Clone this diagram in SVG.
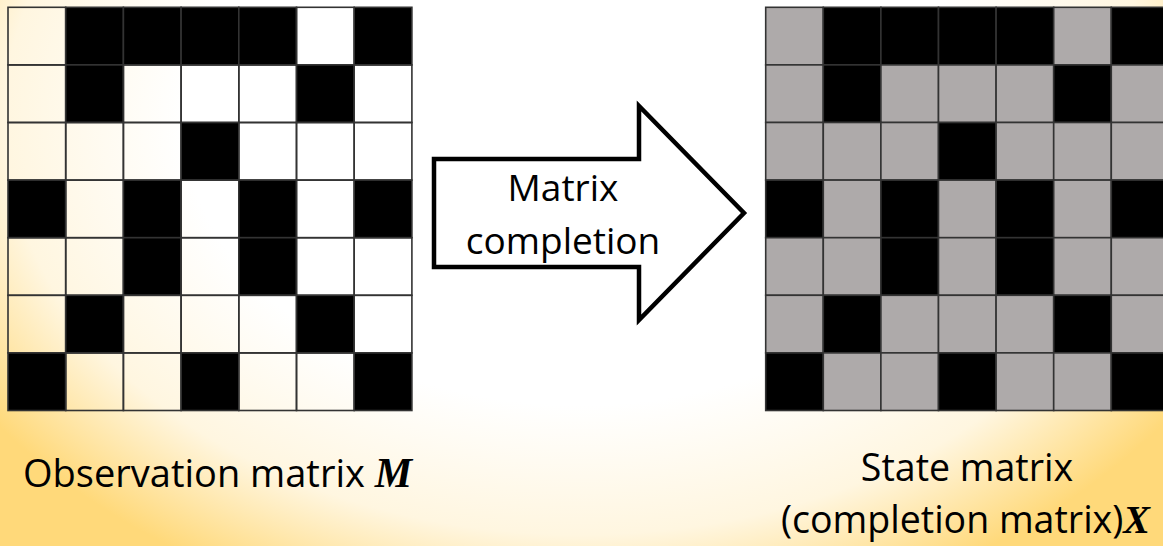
<svg xmlns="http://www.w3.org/2000/svg" width="1163" height="546" viewBox="0 0 1163 546">
  <defs>
    <radialGradient id="bg" gradientUnits="userSpaceOnUse" cx="580" cy="120" r="720" gradientTransform="translate(580 120) scale(1 0.72) translate(-580 -120)">
      <stop offset="0" stop-color="#ffffff"/>
      <stop offset="0.55" stop-color="#ffffff"/>
      <stop offset="0.8" stop-color="#fff6e0"/>
      <stop offset="1" stop-color="#ffd97a"/>
    </radialGradient>
  </defs>
  <style>
    .c { stroke: #333; stroke-width: 1.6; }
    .w { fill: none; }
    .b { fill: #000; }
    .g { fill: #aeaaaa; }
    .t { font-family: "Open Sans", "Noto Sans", sans-serif; fill: #000; }
    .m { font-family: "Liberation Serif", "DejaVu Serif", serif; font-weight: bold; font-style: italic; fill: #000; }
  </style>
  <rect x="0" y="0" width="1163" height="546" fill="url(#bg)"/>

  <g id="observation-matrix">
    <!-- row 0 -->
    <rect class="c w" x="8" y="7.3" width="57.7" height="57.6"/>
    <rect class="c b" x="65.7" y="7.3" width="57.7" height="57.6"/>
    <rect class="c b" x="123.4" y="7.3" width="57.7" height="57.6"/>
    <rect class="c b" x="181.1" y="7.3" width="57.7" height="57.6"/>
    <rect class="c b" x="238.8" y="7.3" width="57.7" height="57.6"/>
    <rect class="c w" x="296.5" y="7.3" width="57.7" height="57.6"/>
    <rect class="c b" x="354.2" y="7.3" width="57.7" height="57.6"/>
    <!-- row 1 -->
    <rect class="c w" x="8" y="64.9" width="57.7" height="57.6"/>
    <rect class="c b" x="65.7" y="64.9" width="57.7" height="57.6"/>
    <rect class="c w" x="123.4" y="64.9" width="57.7" height="57.6"/>
    <rect class="c w" x="181.1" y="64.9" width="57.7" height="57.6"/>
    <rect class="c w" x="238.8" y="64.9" width="57.7" height="57.6"/>
    <rect class="c b" x="296.5" y="64.9" width="57.7" height="57.6"/>
    <rect class="c w" x="354.2" y="64.9" width="57.7" height="57.6"/>
    <!-- row 2 -->
    <rect class="c w" x="8" y="122.5" width="57.7" height="57.6"/>
    <rect class="c w" x="65.7" y="122.5" width="57.7" height="57.6"/>
    <rect class="c w" x="123.4" y="122.5" width="57.7" height="57.6"/>
    <rect class="c b" x="181.1" y="122.5" width="57.7" height="57.6"/>
    <rect class="c w" x="238.8" y="122.5" width="57.7" height="57.6"/>
    <rect class="c w" x="296.5" y="122.5" width="57.7" height="57.6"/>
    <rect class="c w" x="354.2" y="122.5" width="57.7" height="57.6"/>
    <!-- row 3 -->
    <rect class="c b" x="8" y="180.1" width="57.7" height="57.6"/>
    <rect class="c w" x="65.7" y="180.1" width="57.7" height="57.6"/>
    <rect class="c b" x="123.4" y="180.1" width="57.7" height="57.6"/>
    <rect class="c w" x="181.1" y="180.1" width="57.7" height="57.6"/>
    <rect class="c b" x="238.8" y="180.1" width="57.7" height="57.6"/>
    <rect class="c w" x="296.5" y="180.1" width="57.7" height="57.6"/>
    <rect class="c b" x="354.2" y="180.1" width="57.7" height="57.6"/>
    <!-- row 4 -->
    <rect class="c w" x="8" y="237.7" width="57.7" height="57.6"/>
    <rect class="c w" x="65.7" y="237.7" width="57.7" height="57.6"/>
    <rect class="c b" x="123.4" y="237.7" width="57.7" height="57.6"/>
    <rect class="c w" x="181.1" y="237.7" width="57.7" height="57.6"/>
    <rect class="c b" x="238.8" y="237.7" width="57.7" height="57.6"/>
    <rect class="c w" x="296.5" y="237.7" width="57.7" height="57.6"/>
    <rect class="c w" x="354.2" y="237.7" width="57.7" height="57.6"/>
    <!-- row 5 -->
    <rect class="c w" x="8" y="295.3" width="57.7" height="57.6"/>
    <rect class="c b" x="65.7" y="295.3" width="57.7" height="57.6"/>
    <rect class="c w" x="123.4" y="295.3" width="57.7" height="57.6"/>
    <rect class="c w" x="181.1" y="295.3" width="57.7" height="57.6"/>
    <rect class="c w" x="238.8" y="295.3" width="57.7" height="57.6"/>
    <rect class="c b" x="296.5" y="295.3" width="57.7" height="57.6"/>
    <rect class="c w" x="354.2" y="295.3" width="57.7" height="57.6"/>
    <!-- row 6 -->
    <rect class="c b" x="8" y="352.9" width="57.7" height="57.6"/>
    <rect class="c w" x="65.7" y="352.9" width="57.7" height="57.6"/>
    <rect class="c w" x="123.4" y="352.9" width="57.7" height="57.6"/>
    <rect class="c b" x="181.1" y="352.9" width="57.7" height="57.6"/>
    <rect class="c w" x="238.8" y="352.9" width="57.7" height="57.6"/>
    <rect class="c w" x="296.5" y="352.9" width="57.7" height="57.6"/>
    <rect class="c b" x="354.2" y="352.9" width="57.7" height="57.6"/>
  </g>

  <g id="state-matrix">
    <!-- row 0 -->
    <rect class="c g" x="765.7" y="7.3" width="57.6" height="57.6"/>
    <rect class="c b" x="823.3" y="7.3" width="57.6" height="57.6"/>
    <rect class="c b" x="880.9" y="7.3" width="57.6" height="57.6"/>
    <rect class="c b" x="938.5" y="7.3" width="57.6" height="57.6"/>
    <rect class="c b" x="996.1" y="7.3" width="57.6" height="57.6"/>
    <rect class="c g" x="1053.7" y="7.3" width="57.6" height="57.6"/>
    <rect class="c b" x="1111.3" y="7.3" width="57.6" height="57.6"/>
    <!-- row 1 -->
    <rect class="c g" x="765.7" y="64.9" width="57.6" height="57.6"/>
    <rect class="c b" x="823.3" y="64.9" width="57.6" height="57.6"/>
    <rect class="c g" x="880.9" y="64.9" width="57.6" height="57.6"/>
    <rect class="c g" x="938.5" y="64.9" width="57.6" height="57.6"/>
    <rect class="c g" x="996.1" y="64.9" width="57.6" height="57.6"/>
    <rect class="c b" x="1053.7" y="64.9" width="57.6" height="57.6"/>
    <rect class="c g" x="1111.3" y="64.9" width="57.6" height="57.6"/>
    <!-- row 2 -->
    <rect class="c g" x="765.7" y="122.5" width="57.6" height="57.6"/>
    <rect class="c g" x="823.3" y="122.5" width="57.6" height="57.6"/>
    <rect class="c g" x="880.9" y="122.5" width="57.6" height="57.6"/>
    <rect class="c b" x="938.5" y="122.5" width="57.6" height="57.6"/>
    <rect class="c g" x="996.1" y="122.5" width="57.6" height="57.6"/>
    <rect class="c g" x="1053.7" y="122.5" width="57.6" height="57.6"/>
    <rect class="c g" x="1111.3" y="122.5" width="57.6" height="57.6"/>
    <!-- row 3 -->
    <rect class="c b" x="765.7" y="180.1" width="57.6" height="57.6"/>
    <rect class="c g" x="823.3" y="180.1" width="57.6" height="57.6"/>
    <rect class="c b" x="880.9" y="180.1" width="57.6" height="57.6"/>
    <rect class="c g" x="938.5" y="180.1" width="57.6" height="57.6"/>
    <rect class="c b" x="996.1" y="180.1" width="57.6" height="57.6"/>
    <rect class="c g" x="1053.7" y="180.1" width="57.6" height="57.6"/>
    <rect class="c b" x="1111.3" y="180.1" width="57.6" height="57.6"/>
    <!-- row 4 -->
    <rect class="c g" x="765.7" y="237.7" width="57.6" height="57.6"/>
    <rect class="c g" x="823.3" y="237.7" width="57.6" height="57.6"/>
    <rect class="c b" x="880.9" y="237.7" width="57.6" height="57.6"/>
    <rect class="c g" x="938.5" y="237.7" width="57.6" height="57.6"/>
    <rect class="c b" x="996.1" y="237.7" width="57.6" height="57.6"/>
    <rect class="c g" x="1053.7" y="237.7" width="57.6" height="57.6"/>
    <rect class="c g" x="1111.3" y="237.7" width="57.6" height="57.6"/>
    <!-- row 5 -->
    <rect class="c g" x="765.7" y="295.3" width="57.6" height="57.6"/>
    <rect class="c b" x="823.3" y="295.3" width="57.6" height="57.6"/>
    <rect class="c g" x="880.9" y="295.3" width="57.6" height="57.6"/>
    <rect class="c g" x="938.5" y="295.3" width="57.6" height="57.6"/>
    <rect class="c g" x="996.1" y="295.3" width="57.6" height="57.6"/>
    <rect class="c b" x="1053.7" y="295.3" width="57.6" height="57.6"/>
    <rect class="c g" x="1111.3" y="295.3" width="57.6" height="57.6"/>
    <!-- row 6 -->
    <rect class="c b" x="765.7" y="352.9" width="57.6" height="57.6"/>
    <rect class="c g" x="823.3" y="352.9" width="57.6" height="57.6"/>
    <rect class="c g" x="880.9" y="352.9" width="57.6" height="57.6"/>
    <rect class="c b" x="938.5" y="352.9" width="57.6" height="57.6"/>
    <rect class="c g" x="996.1" y="352.9" width="57.6" height="57.6"/>
    <rect class="c g" x="1053.7" y="352.9" width="57.6" height="57.6"/>
    <rect class="c b" x="1111.3" y="352.9" width="57.6" height="57.6"/>
  </g>

  <g id="matrix-completion-arrow">
    <polygon points="434,159 639,159 639,106 744,213 639,320 639,267 434,267" fill="#ffffff" stroke="#000" stroke-width="4.5" stroke-linejoin="miter"/>
    <text class="t" x="563" y="201" font-size="37" text-anchor="middle">Matrix</text>
    <text class="t" x="563" y="254" font-size="37" text-anchor="middle">completion</text>
  </g>

  <g id="label-observation">
    <text x="23" y="487" font-size="38"><tspan class="t">Observation matrix </tspan><tspan class="m" font-size="42">M</tspan></text>
  </g>

  <g id="label-state">
    <text class="t" x="967" y="481" font-size="37.5" text-anchor="middle">State matrix</text>
    <text x="781" y="533" font-size="37.5"><tspan class="t">(completion matrix)</tspan><tspan class="m" font-size="40">X</tspan></text>
  </g>
</svg>
